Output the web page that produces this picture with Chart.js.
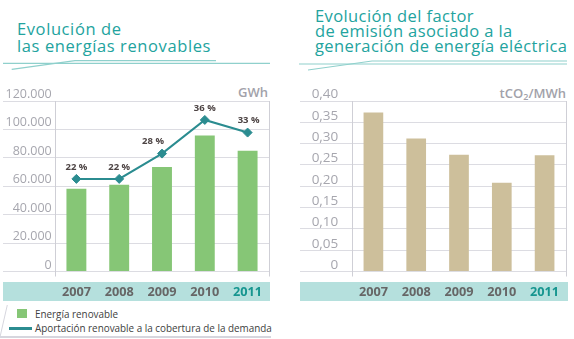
<!DOCTYPE html>
<html lang="es">
<head>
<meta charset="utf-8">
<script src="https://cdn.jsdelivr.net/npm/chart.js@4.4.1/dist/chart.umd.min.js"></script>
<style>
  body { margin: 0; width: 574px; height: 339px; position: relative; overflow: hidden; background: #fff; font-family: "Open Sans", sans-serif; }
  .title { position: absolute; color: #22a39e; font-size: 16.5px; letter-spacing: 0.6px; white-space: nowrap; }
  .unit { position: absolute; color: #a2a2aa; font-size: 13px; font-weight: 600; line-height: 16px; text-align: right; white-space: nowrap; }
  .unit sub { font-size: 9px; vertical-align: -2px; }
  .band { position: absolute; top: 282px; height: 19px; background: #b5e0dd; }
  canvas { position: absolute; top: 80px; }
  .key { position: absolute; left: 35px; font-size: 9.9px; color: #404040; line-height: 14px; white-space: nowrap; }
  .swatch { position: absolute; }
  svg { position: absolute; left: 0; top: 0; }
</style>
</head>
<body>
<svg width="574" height="339">
  <g stroke="#8fd0cc" stroke-width="1.2" fill="none">
    <line x1="3" y1="63.3" x2="270" y2="63.3"/>
    <polyline points="11.7,69.3 75,60.7 216,60.7"/>
    <line x1="299" y1="64" x2="567" y2="64"/>
    <polyline points="308,70 372,61 567,61"/>
  </g>
  <g stroke="#d6d6de" fill="none">
    <line x1="0" y1="337" x2="271" y2="337" stroke-width="2"/>
    <line x1="0" y1="337" x2="7.3" y2="305" stroke-width="1"/>
  </g>
</svg>

<div class="title" style="left:17px; top:21px; line-height:16.6px;">Evolución de<br>las energías renovables</div>
<div class="title" style="left:315px; top:7.7px; line-height:15.3px; letter-spacing:0.4px;">Evolución del factor<br>de emisión asociado a la<br>generación de energía eléctrica</div>

<div class="band" style="left:3px; width:267px;"></div>
<div class="band" style="left:300px; width:268px;"></div>

<div class="unit" style="right:306px; top:84px;">GWh</div>
<div class="unit" style="right:8px; top:85px;">tCO<sub>2</sub>/MWh</div>

<canvas id="renovables" width="290" height="225" style="left:0px;"></canvas>
<canvas id="emision" width="284" height="225" style="left:290px;"></canvas>

<div id="legend"></div>

<script>
// years on both x axes
const years = ['2007', '2008', '2009', '2010', '2011'];

// renewable generation, GWh
const renewableGWh = [58200, 61000, 73500, 95700, 85000];
// renewable share of demand coverage, %
const renewableShare = [22, 22, 28, 36, 33];
// emission factor of electricity generation, tCO2/MWh
const emissionFactor = [0.373, 0.312, 0.274, 0.208, 0.273];

const seriesNames = ['Energía renovable', 'Aportación renovable a la cobertura de la demanda'];

const gwhMax = 120000, gwhStep = 20000;
const factorMax = 0.40, factorStep = 0.05;

const GREEN = '#86c676';
const TEAL = '#2b8c90';
const TAN = '#cdbf9b';
const GRID = '#dcdce2';
const EDGE = '#cfcfd6';
const FONT = '"Open Sans", sans-serif';

Chart.defaults.font.family = FONT;
Chart.defaults.animation = false;

// thousands separator with dots: 120000 -> 120.000
function dotted(v) {
  return String(v).replace(/\B(?=(\d{3})+(?!\d))/g, '.');
}

// only the outer edges of the category axis get a vertical line
function edgeColor(ctx) {
  return (ctx.type === 'scale' || ctx.index === 0) ? EDGE : 'transparent';
}

function xAxis() {
  return {
    offset: true,
    grid: { offset: true, color: edgeColor, tickLength: 5 },
    border: { display: false },
    ticks: {
      padding: 8,
      font: { size: 12.7, weight: 'bold' },
      color: ctx => ctx.index === years.length - 1 ? '#16958f' : '#666666'
    },
    afterFit: s => { s.height = 33.5; }
  };
}

// "22 %" labels over the line points
const shareLabels = {
  id: 'shareLabels',
  afterDatasetsDraw(chart, args, opts) {
    const meta = chart.getDatasetMeta(opts.datasetIndex);
    const ctx = chart.ctx;
    ctx.save();
    ctx.font = 'bold 9.5px ' + FONT;
    ctx.fillStyle = '#4d4444';
    ctx.textAlign = 'center';
    ctx.textBaseline = 'middle';
    meta.data.forEach((pt, i) => {
      const v = chart.data.datasets[opts.datasetIndex].data[i];
      const dx = (opts.shift && opts.shift[i]) || 0;
      ctx.fillText(v + ' %', pt.x + dx, pt.y - 12);
    });
    ctx.restore();
  }
};

new Chart(document.getElementById('renovables'), {
  type: 'bar',
  data: {
    labels: years,
    datasets: [
      {
        type: 'line',
        label: seriesNames[1],
        data: renewableShare,
        yAxisID: 'pct',
        order: 0,
        borderColor: TEAL,
        backgroundColor: TEAL,
        borderWidth: 2,
        tension: 0,
        pointStyle: 'rectRot',
        pointRadius: 4.5,
        pointBorderWidth: 1
      },
      {
        label: seriesNames[0],
        data: renewableGWh,
        order: 1,
        backgroundColor: GREEN,
        barPercentage: 0.465,
        categoryPercentage: 1
      }
    ]
  },
  options: {
    responsive: false,
    layout: { padding: { top: 21, right: 21, left: 0, bottom: 0 } },
    plugins: {
      legend: { display: false },
      tooltip: { enabled: false },
      shareLabels: { datasetIndex: 0, shift: [0, 0, -9, 0, 1] }
    },
    scales: {
      x: xAxis(),
      y: {
        min: 0, max: gwhMax,
        grid: { color: GRID, tickLength: 52 },
        border: { display: true, color: EDGE },
        ticks: {
          stepSize: gwhStep,
          padding: -48.7,
          labelOffset: -6.5,
          color: '#a6a6ae',
          font: { size: 12.5 },
          callback: v => v === 0 ? '0' : dotted(v)
        },
        afterFit: s => { s.width = 55; }
      },
      pct: { display: false, min: 0, max: 40.5 }
    }
  },
  plugins: [shareLabels]
});

new Chart(document.getElementById('emision'), {
  type: 'bar',
  data: {
    labels: years,
    datasets: [{
      label: 'tCO2/MWh',
      data: emissionFactor,
      backgroundColor: TAN,
      barPercentage: 0.46,
      categoryPercentage: 1
    }]
  },
  options: {
    responsive: false,
    layout: { padding: { top: 21, right: 8, left: 0, bottom: 0 } },
    plugins: { legend: { display: false }, tooltip: { enabled: false } },
    scales: {
      x: xAxis(),
      y: {
        min: 0, max: factorMax,
        grid: { color: GRID, tickLength: 52 },
        border: { display: true, color: EDGE },
        ticks: {
          stepSize: factorStep,
          padding: -38.3,
          labelOffset: -6.5,
          color: '#a6a6ae',
          font: { size: 13.5 },
          callback: v => v === 0 ? '0' : v.toFixed(2).replace('.', ',')
        },
        afterFit: s => { s.width = 62; }
      }
    }
  }
});

// legend under the left chart
const legend = document.getElementById('legend');
legend.innerHTML =
  `<div class="swatch" style="left:17px;top:309px;width:10px;height:9px;background:${GREEN}"></div>` +
  `<div class="key" style="top:306.7px">${seriesNames[0]}</div>` +
  `<div class="swatch" style="left:9px;top:326.5px;width:23px;height:3px;background:${TEAL}"></div>` +
  `<div class="key" style="top:321px">${seriesNames[1]}</div>`;
</script>
</body>
</html>
